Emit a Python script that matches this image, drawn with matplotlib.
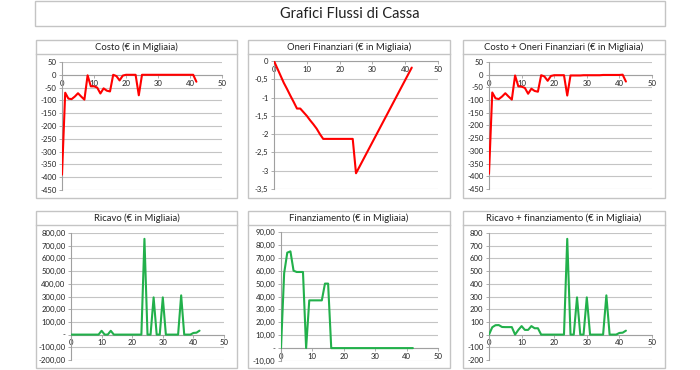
import matplotlib
matplotlib.use("Agg")
import matplotlib.pyplot as plt
from matplotlib.patches import Rectangle

plt.rcParams['font.family'] = ['Lato', 'DejaVu Sans']

W, H = 700, 370

# ---------------- data ----------------
months = list(range(43))

costo = [-390, -70, -93, -95, -85, -72, -85, -97, -2, -45,
         -45, -50, -73, -53, -62, -65, 0, -5, -22, -3,
         0, 0, 0, 0, -80,
         0, 0, 0, 0, 0, 0, 0, 0, 0, 0, 0, 0, 0, 0, 0, 0, 0, -27]

oneri = [0, -0.2, -0.4, -0.6, -0.77, -0.95, -1.12, -1.3, -1.3, -1.4,
         -1.5, -1.62, -1.73, -1.85, -2.0, -2.13, -2.13, -2.13, -2.13, -2.13,
         -2.13, -2.13, -2.13, -2.13, -2.13, -3.07, -2.9, -2.73, -2.56, -2.39,
         -2.22, -2.05, -1.88, -1.71, -1.54, -1.37, -1.2, -1.03, -0.86, -0.69,
         -0.52, -0.35, -0.18]

costo_oneri = [-390, -70, -93, -96, -86, -73, -86, -98, -3, -46,
               -47, -52, -75, -55, -64, -67, -2, -7, -24, -5,
               -2, -2, -2, -2, -82,
               -3, -3, -3, -3, -2, -2, -2, -2, -2, -2, -1, -1, -1, -1, -1, -1, 0, -27]

ricavo = [0, 0, 0, 0, 0, 0, 0, 0, 0, 0,
          30, 0, 0, 30,
          0, 0, 0, 0, 0, 0, 0, 0, 0, 0,
          754, 0, 0, 293, 0, 0, 293,
          0, 0, 0, 0, 0,
          309, 0, 0, 0, 13, 15, 31]

finanziamento = [0, 58, 74, 75, 60, 59, 59, 59, 0, 37, 37, 37, 37, 37, 50, 50, 0,
                 0, 0, 0, 0, 0, 0, 0, 0, 0, 0, 0, 0, 0, 0, 0, 0, 0, 0, 0, 0,
                 0, 0, 0, 0, 0, 0]

ricavo_fin = [0, 58, 74, 75, 60, 59, 59, 59, 0, 37, 67, 37, 37, 67, 50, 50, 0,
              0, 0, 0, 0, 0, 0, 0,
              754, 0, 0, 293, 0, 0, 293, 0, 0, 0, 0, 0, 309, 0, 0, 0, 13, 15, 31]

main_title = "Grafici Flussi di Cassa"
titles = ["Costo (€ in Migliaia)", "Oneri Finanziari (€ in Migliaia)",
          "Costo + Oneri Finanziari (€ in Migliaia)",
          "Ricavo (€ in Migliaia)", "Finanziamento (€ in Migliaia)",
          "Ricavo + finanziamento (€ in Migliaia)"]

x_ticks = [0, 10, 20, 30, 40, 50]
x_labels = ["0", "10", "20", "30", "40", "50"]

yt_costo = [50, 0, -50, -100, -150, -200, -250, -300, -350, -400, -450]
yl_costo = ["50", "0", "-50", "-100", "-150", "-200", "-250", "-300", "-350", "-400", "-450"]
yt_oneri = [0, -0.5, -1, -1.5, -2, -2.5, -3, -3.5]
yl_oneri = ["0", "-0,5", "-1", "-1,5", "-2", "-2,5", "-3", "-3,5"]
yt_ricavo = [800, 700, 600, 500, 400, 300, 200, 100, 0, -100, -200]
yl_ricavo = ["800,00", "700,00", "600,00", "500,00", "400,00", "300,00", "200,00",
             "100,00", "-", "-100,00", "-200,00"]
yt_fin = [90, 80, 70, 60, 50, 40, 30, 20, 10, 0, -10]
yl_fin = ["90,00", "80,00", "70,00", "60,00", "50,00", "40,00", "30,00", "20,00",
          "10,00", "-", "-10,00"]
yl_ricfin = ["800", "700", "600", "500", "400", "300", "200", "100", "0", "-100", "-200"]

RED = "#ff0000"
GREEN = "#22b04b"

series = [costo, oneri, costo_oneri, ricavo, finanziamento, ricavo_fin]
colors = [RED, RED, RED, GREEN, GREEN, GREEN]
yticks = [yt_costo, yt_oneri, yt_costo, yt_ricavo, yt_fin, yt_ricavo]
ylabels = [yl_costo, yl_oneri, yl_costo, yl_ricavo, yl_fin, yl_ricfin]

# ---------------- layout (pixel boxes) ----------------
panel_boxes = [(36, 40, 237, 198), (248, 40, 450, 198), (463, 40, 665, 198),
               (36, 211, 237, 368), (248, 211, 450, 368), (463, 211, 665, 368)]
axes_boxes = [(62, 62, 222, 190), (274, 61, 438, 189), (489, 62, 652, 189),
              (71, 233, 224, 360), (281, 232, 438, 361), (489, 233, 652, 360)]

fig = plt.figure(figsize=(W / 100, H / 100), dpi=100)
fig.patch.set_facecolor("white")

def fig_rect(x0, y0, x1, y1):
    return (x0 / W, 1 - y1 / H, (x1 - x0) / W, (y1 - y0) / H)

BORDER = "#c4c4c4"

# main title box
r = fig_rect(35, 1, 665, 26)
fig.patches.append(Rectangle((r[0], r[1]), r[2], r[3], transform=fig.transFigure,
                             fill=False, edgecolor=BORDER, lw=1.0))
fig.text(350 / W, 1 - 14 / H, main_title, ha="center", va="center",
         fontsize=10.5, color="#222222")

for i in range(6):
    px0, py0, px1, py1 = panel_boxes[i]
    r = fig_rect(px0, py0, px1, py1)
    fig.patches.append(Rectangle((r[0], r[1]), r[2], r[3], transform=fig.transFigure,
                                 fill=False, edgecolor=BORDER, lw=1.0))
    # title band line
    fig.lines.append(plt.Line2D([px0 / W, px1 / W], [1 - (py0 + 14) / H] * 2,
                                transform=fig.transFigure, color=BORDER, lw=1.0))
    fig.text((px0 + px1) / 2 / W, 1 - (py0 + 7.5) / H, titles[i], ha="center",
             va="center", fontsize=6.8, color="#222222")

    ax0, ay0, ax1, ay1 = axes_boxes[i]
    ax = fig.add_axes(fig_rect(ax0, ay0, ax1, ay1))
    yt = yticks[i]
    ax.set_xlim(0, 50)
    ax.set_ylim(min(yt), max(yt))
    ax.set_yticks(yt)
    ax.set_yticklabels(ylabels[i])
    ax.set_xticks(x_ticks)
    ax.set_xticklabels(x_labels)
    ax.grid(axis="y", color="#c4c4c4", lw=0.8)
    ax.set_axisbelow(True)
    for s in ["top", "right"]:
        ax.spines[s].set_visible(False)
    ax.spines["left"].set_color("#a0a0a0")
    ax.spines["left"].set_linewidth(0.8)
    ax.spines["bottom"].set_position(("data", 0))
    ax.spines["bottom"].set_color("#a0a0a0")
    ax.spines["bottom"].set_linewidth(0.8)
    ax.tick_params(axis="both", labelsize=5.6, colors="#a0a0a0", labelcolor="#222222",
                   length=2, width=0.6, pad=1.5)
    ax.tick_params(axis="y", pad=2)
    ax.patch.set_alpha(0)
    ax.plot(months, series[i], color=colors[i], lw=1.5, solid_joinstyle="round",
            solid_capstyle="round", zorder=3)

fig.savefig("out.png", dpi=100, facecolor="white")
